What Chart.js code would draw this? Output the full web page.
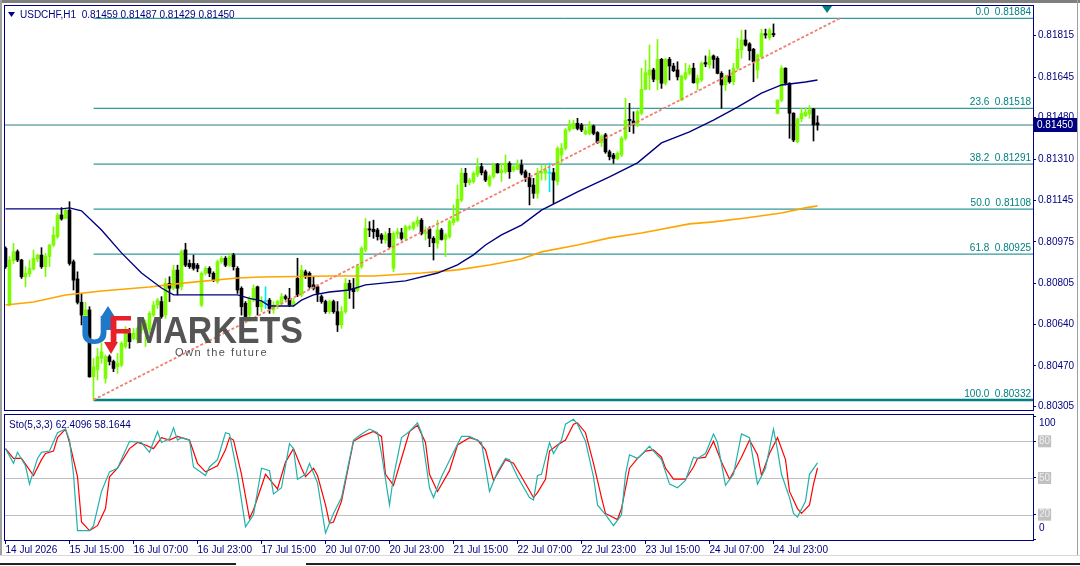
<!DOCTYPE html>
<html>
<head>
<meta charset="utf-8">
<script src="https://cdn.jsdelivr.net/npm/chart.js@4.4.1/dist/chart.umd.min.js"></script>
<style>
  html, body { margin: 0; padding: 0; background: #fff; }
  #wrap { position: relative; width: 1080px; height: 566px; overflow: hidden; background: #fff; }
  canvas { position: absolute; left: 0; }
  #main { top: 0; }
  #sto { top: 411px; }
  .bar { position: absolute; }
</style>
</head>
<body>
<div id="wrap">
  <canvas id="main" width="1080" height="412"></canvas>
  <canvas id="sto" width="1080" height="155"></canvas>
  <div class="bar" style="left:0;top:0;width:1080px;height:3px;background:#7f7f7f"></div>
  <div class="bar" style="left:0;top:0;width:2px;height:556px;background:#a0a0a0"></div>
  <div class="bar" style="left:1077px;top:0;width:1px;height:556px;background:#a0a0a0"></div>
  <div class="bar" style="left:0;top:555px;width:1080px;height:1px;background:#d8d8d8"></div>
  <div class="bar" style="left:0;top:563px;width:236px;height:2px;background:#222"></div>
  <div class="bar" style="left:306px;top:563px;width:774px;height:2px;background:#222"></div>
</div>
<script>
// USDCHF H1 - bars numbered from the left edge of the chart
const timeLabels = ['14 Jul 2026', '15 Jul 15:00', '16 Jul 07:00', '16 Jul 23:00', '17 Jul 15:00',
  '20 Jul 07:00', '20 Jul 23:00', '21 Jul 15:00', '22 Jul 07:00', '22 Jul 23:00',
  '23 Jul 15:00', '24 Jul 07:00', '24 Jul 23:00'];
const labelStep = 16;
const priceTicks = [0.80305, 0.80470, 0.80640, 0.80805, 0.80975, 0.81145, 0.81310, 0.81480, 0.81645, 0.81815];
const stochTicks = [0, 20, 50, 80, 100];
const stochLevels = [20, 50, 80];

const opens = [0.80949,0.80718,0.80898,0.80935,0.80901,0.80833,0.80844,0.80864,0.80905,0.80921,
  0.80874,0.80915,0.80962,0.80996,0.81084,0.81070,0.81104,0.80894,0.80824,0.80729,
  0.80677,0.80698,0.80426,0.80454,0.80501,0.80420,0.80508,0.80488,0.80467,0.80474,
  0.80549,0.80603,0.80582,0.80576,0.80617,0.80623,0.80617,0.80677,0.80718,0.80732,
  0.80677,0.80806,0.80786,0.80860,0.80792,0.80942,0.80887,0.80887,0.80880,0.80718,
  0.80847,0.80867,0.80847,0.80813,0.80894,0.80908,0.80880,0.80921,0.80867,0.80786,
  0.80725,0.80677,0.80738,0.80792,0.80711,0.80732,0.80738,0.80698,0.80711,0.80725,
  0.80752,0.80745,0.80718,0.80826,0.80759,0.80853,0.80847,0.80800,0.80792,0.80752,
  0.80732,0.80691,0.80732,0.80691,0.80637,0.80691,0.80806,0.80786,0.80779,0.80874,
  0.80942,0.81028,0.81026,0.81023,0.81003,0.80982,0.81009,0.80867,0.81007,0.81012,
  0.80989,0.81030,0.81030,0.81047,0.81063,0.81009,0.81027,0.80989,0.80969,0.81023,
  0.80985,0.80996,0.81053,0.81063,0.81145,0.81254,0.81216,0.81220,0.81247,0.81281,
  0.81260,0.81206,0.81240,0.81291,0.81256,0.81260,0.81294,0.81267,0.81270,0.81287,
  0.81260,0.81236,0.81206,0.81172,0.81254,0.81254,0.81254,0.81256,0.81220,0.81328,
  0.81355,0.81430,0.81436,0.81457,0.81450,0.81414,0.81416,0.81446,0.81419,0.81378,
  0.81410,0.81341,0.81328,0.81314,0.81328,0.81396,0.81473,0.81466,0.81450,0.81498,
  0.81595,0.81653,0.81674,0.81633,0.81717,0.81620,0.81717,0.81690,0.81674,0.81551,
  0.81640,0.81660,0.81681,0.81620,0.81633,0.81704,0.81694,0.81731,0.81721,0.81660,
  0.81613,0.81649,0.81626,0.81681,0.81755,0.81796,0.81780,0.81758,0.81674,0.81728,
  0.81821,0.81805,0.81822,0.81498,0.81551,0.81681,0.81620,0.81498,0.81382,0.81475,
  0.81488,0.81495,0.81515,0.81459];
const highs = [0.80955,0.80915,0.80969,0.80942,0.80904,0.80874,0.80901,0.80942,0.80925,0.80951,
  0.80928,0.80965,0.81036,0.81091,0.81114,0.81111,0.81138,0.80901,0.80853,0.80765,
  0.80729,0.80711,0.80501,0.80542,0.80562,0.80515,0.80515,0.80494,0.80521,0.80569,
  0.80630,0.80623,0.80623,0.80630,0.80651,0.80657,0.80691,0.80732,0.80745,0.80752,
  0.80826,0.80833,0.80880,0.80880,0.80942,0.80969,0.80901,0.80921,0.80887,0.80853,
  0.80874,0.80874,0.80853,0.80901,0.80915,0.80915,0.80928,0.80928,0.80874,0.80792,
  0.80732,0.80752,0.80800,0.80795,0.80752,0.80792,0.80745,0.80732,0.80738,0.80765,
  0.80759,0.80786,0.80745,0.80908,0.80880,0.80860,0.80853,0.80833,0.80800,0.80759,
  0.80738,0.80738,0.80738,0.80732,0.80711,0.80826,0.80819,0.80826,0.80880,0.80955,
  0.81070,0.81057,0.81063,0.81030,0.81009,0.81016,0.81030,0.81016,0.81030,0.81030,
  0.81043,0.81043,0.81057,0.81077,0.81070,0.81036,0.81036,0.80996,0.81063,0.81030,
  0.81009,0.81063,0.81125,0.81206,0.81274,0.81274,0.81233,0.81260,0.81314,0.81294,
  0.81267,0.81247,0.81294,0.81294,0.81294,0.81328,0.81301,0.81287,0.81308,0.81308,
  0.81267,0.81254,0.81233,0.81274,0.81287,0.81287,0.81294,0.81274,0.81362,0.81375,
  0.81436,0.81470,0.81470,0.81477,0.81457,0.81443,0.81464,0.81450,0.81423,0.81410,
  0.81416,0.81348,0.81335,0.81341,0.81403,0.81559,0.81538,0.81504,0.81511,0.81681,
  0.81714,0.81775,0.81681,0.81798,0.81721,0.81721,0.81725,0.81701,0.81707,0.81653,
  0.81701,0.81694,0.81701,0.81653,0.81707,0.81731,0.81755,0.81735,0.81728,0.81667,
  0.81653,0.81674,0.81701,0.81803,0.81836,0.81836,0.81785,0.81762,0.81738,0.81840,
  0.81840,0.81843,0.81861,0.81553,0.81691,0.81683,0.81622,0.81500,0.81477,0.81518,
  0.81518,0.81529,0.81518,0.81487];
const lows = [0.80867,0.80714,0.80887,0.80894,0.80826,0.80792,0.80833,0.80860,0.80894,0.80867,
  0.80833,0.80874,0.80955,0.80989,0.81063,0.81068,0.80880,0.80779,0.80722,0.80637,
  0.80646,0.80424,0.80332,0.80413,0.80481,0.80400,0.80474,0.80447,0.80440,0.80467,
  0.80542,0.80542,0.80576,0.80562,0.80603,0.80549,0.80603,0.80671,0.80704,0.80664,
  0.80664,0.80732,0.80779,0.80759,0.80779,0.80874,0.80867,0.80860,0.80853,0.80711,
  0.80840,0.80833,0.80813,0.80806,0.80887,0.80874,0.80874,0.80860,0.80765,0.80677,
  0.80657,0.80651,0.80732,0.80677,0.80691,0.80704,0.80684,0.80684,0.80704,0.80718,
  0.80738,0.80711,0.80711,0.80752,0.80752,0.80826,0.80786,0.80779,0.80732,0.80725,
  0.80684,0.80684,0.80684,0.80610,0.80623,0.80684,0.80745,0.80704,0.80772,0.80867,
  0.80935,0.80996,0.80989,0.80982,0.80969,0.80969,0.80949,0.80853,0.80989,0.80982,
  0.80982,0.81023,0.81023,0.81036,0.81003,0.80982,0.80955,0.80901,0.80949,0.80982,
  0.80915,0.80989,0.81043,0.81057,0.81138,0.81199,0.81206,0.81213,0.81240,0.81247,
  0.81220,0.81199,0.81233,0.81254,0.81220,0.81254,0.81233,0.81260,0.81267,0.81247,
  0.81220,0.81125,0.81152,0.81152,0.81226,0.81226,0.81179,0.81131,0.81206,0.81294,
  0.81348,0.81423,0.81433,0.81430,0.81423,0.81410,0.81410,0.81410,0.81375,0.81362,
  0.81335,0.81308,0.81294,0.81308,0.81321,0.81389,0.81423,0.81416,0.81443,0.81491,
  0.81593,0.81593,0.81626,0.81593,0.81599,0.81613,0.81633,0.81667,0.81633,0.81549,
  0.81633,0.81653,0.81620,0.81593,0.81626,0.81687,0.81681,0.81681,0.81658,0.81518,
  0.81590,0.81620,0.81613,0.81674,0.81721,0.81771,0.81714,0.81626,0.81640,0.81721,
  0.81803,0.81796,0.81809,0.81495,0.81545,0.81613,0.81396,0.81382,0.81378,0.81464,
  0.81484,0.81477,0.81385,0.81429];
const closes = [0.80874,0.80901,0.80935,0.80901,0.80833,0.80847,0.80867,0.80908,0.80921,0.80874,
  0.80917,0.80962,0.81003,0.81084,0.81068,0.81104,0.80887,0.80819,0.80729,0.80677,
  0.80698,0.80426,0.80467,0.80508,0.80528,0.80508,0.80488,0.80460,0.80481,0.80562,
  0.80603,0.80569,0.80603,0.80623,0.80637,0.80644,0.80684,0.80718,0.80738,0.80671,
  0.80806,0.80786,0.80860,0.80786,0.80935,0.80880,0.80874,0.80867,0.80867,0.80847,
  0.80867,0.80847,0.80819,0.80894,0.80908,0.80880,0.80915,0.80874,0.80779,0.80711,
  0.80671,0.80745,0.80786,0.80711,0.80732,0.80732,0.80704,0.80718,0.80732,0.80752,
  0.80745,0.80718,0.80732,0.80759,0.80860,0.80833,0.80792,0.80786,0.80765,0.80732,
  0.80691,0.80732,0.80691,0.80637,0.80691,0.80806,0.80779,0.80772,0.80874,0.80949,
  0.81030,0.81023,0.81016,0.80996,0.80985,0.81003,0.80955,0.81009,0.81016,0.80989,
  0.81036,0.81036,0.81053,0.81063,0.81009,0.81016,0.80989,0.80971,0.81023,0.80985,
  0.81003,0.81057,0.81070,0.81148,0.81254,0.81216,0.81226,0.81254,0.81281,0.81256,
  0.81226,0.81240,0.81287,0.81256,0.81267,0.81294,0.81260,0.81281,0.81290,0.81254,
  0.81237,0.81199,0.81172,0.81254,0.81260,0.81267,0.81254,0.81226,0.81355,0.81355,
  0.81430,0.81450,0.81457,0.81436,0.81430,0.81427,0.81450,0.81416,0.81378,0.81405,
  0.81341,0.81321,0.81314,0.81335,0.81396,0.81470,0.81468,0.81457,0.81504,0.81595,
  0.81663,0.81674,0.81636,0.81717,0.81620,0.81717,0.81690,0.81671,0.81646,0.81649,
  0.81663,0.81681,0.81622,0.81640,0.81701,0.81698,0.81728,0.81717,0.81660,0.81613,
  0.81646,0.81626,0.81681,0.81758,0.81796,0.81775,0.81752,0.81707,0.81735,0.81822,
  0.81816,0.81836,0.81817,0.81551,0.81681,0.81620,0.81498,0.81389,0.81475,0.81498,
  0.81502,0.81511,0.81450,0.81450];

// moving averages, read as [bar, price]
const maNavy = [[0,0.81109],[14,0.81109],[16,0.81113],[19,0.81101],[24,0.81023],[29,0.80930],[34,0.80848],
  [39,0.80787],[42,0.80759],[58,0.80759],[61,0.80745],[64,0.80735],[66,0.80714],[72,0.80714],[74,0.80738],
  [77,0.80759],[81,0.80771],[86,0.80779],[90,0.80800],[100,0.80816],[108,0.80848],[113,0.80881],
  [117,0.80922],[120,0.80962],[124,0.81003],[129,0.81043],[134,0.81104],[143,0.81178],[151,0.81239],
  [158,0.81296],[164,0.81377],[171,0.81422],[177,0.81470],[183,0.81523],[189,0.81580],[194,0.81613],
  [200,0.81625],[203,0.81633]];
const maOrange = [[0,0.80718],[7,0.80730],[15,0.80759],[24,0.80775],[36,0.80791],[45,0.80808],[58,0.80828],
  [64,0.80832],[81,0.80836],[92,0.80836],[104,0.80848],[113,0.80861],[121,0.80881],[129,0.80905],
  [134,0.80934],[143,0.80962],[151,0.80991],[159,0.81011],[171,0.81048],[177,0.81056],[185,0.81072],
  [194,0.81092],[200,0.81113],[203,0.81121]];

// fibonacci retracement
const fibPct = [0.0, 23.6, 38.2, 50.0, 61.8, 100.0];
const fibPrice = [0.81884, 0.81518, 0.81291, 0.81108, 0.80925, 0.80332];
const fibFrom = 22;
const fibTrend = [[22, 0.80332], [208.6, 0.81884]];
const lastPrice = 0.81450;

// stochastic (5,3,3), read as [bar, value]
const stochK = [[0,74],[2,62],[3,71],[5,60],[6,45],[8,66],[9,71],[11,72],[13,87],[15,90],[16,81],[17,53],[18,7],
  [21,7],[22,11],[24,39],[26,55],[28,58],[31,80],[34,79],[36,71],[38,88],[39,79],[41,82],[42,91],[43,81],
  [44,83],[46,81],[47,59],[50,52],[51,59],[53,65],[55,87],[56,86],[58,53],[60,10],[62,20],[64,58],[66,56],
  [67,37],[69,42],[71,78],[72,74],[73,49],[75,53],[76,62],[78,46],[80,5],[82,21],[84,34],[87,81],[89,86],
  [91,90],[93,87],[94,70],[96,28],[97,51],[99,83],[101,88],[103,95],[104,87],[106,42],[107,34],[109,51],
  [112,71],[114,84],[116,84],[119,79],[121,39],[123,55],[125,66],[126,65],[128,51],[131,34],[132,32],
  [133,52],[134,53],[136,79],[137,70],[139,81],[140,94],[142,98],[143,94],[145,80],[147,51],[148,28],
  [150,20],[152,11],[154,20],[155,53],[156,69],[158,66],[159,69],[161,76],[162,72],[164,65],[165,55],
  [166,45],[168,42],[170,48],[172,67],[173,66],[175,70],[177,86],[178,79],[180,44],[182,53],[184,86],
  [186,83],[188,45],[190,58],[192,90],[193,73],[194,53],[196,34],[197,21],[198,18],[200,31],[201,53],
  [203,62.4096]];
const stochD = [[0,74],[2,66],[4,66],[7,52],[9,65],[10,70],[12,72],[13,83],[15,90],[16,79],[18,51],[19,14],
  [21,7],[23,11],[25,25],[26,51],[28,58],[31,74],[33,79],[35,77],[37,74],[39,83],[41,81],[43,84],[44,83],
  [46,81],[48,62],[50,55],[53,60],[55,73],[56,83],[57,81],[59,53],[61,17],[62,24],[65,53],[67,45],[68,41],
  [70,63],[72,74],[74,58],[75,51],[77,58],[78,52],[80,28],[81,13],[82,14],[84,31],[87,80],[89,84],[92,88],
  [94,84],[95,53],[97,44],[100,77],[101,88],[103,93],[105,79],[106,53],[108,39],[111,56],[113,77],[116,83],
  [118,81],[120,73],[122,48],[125,65],[127,62],[129,51],[132,34],[133,38],[135,49],[136,72],[138,77],
  [140,81],[142,94],[143,95],[145,87],[147,62],[149,34],[150,21],[153,16],[154,25],[156,58],[158,66],
  [160,72],[162,73],[164,67],[165,58],[167,49],[170,49],[172,59],[173,66],[175,67],[177,80],[179,63],
  [181,49],[184,67],[186,81],[188,69],[189,52],[191,70],[193,83],[195,65],[196,39],[198,25],[199,21],
  [201,28],[202,45],[203,58.1644]];

const NAVY = '#000080';
const TEAL = '#008080';
const FONT = 'Liberation Sans';
const xMin = -0.125, xMax = 256.875;

function candleColor(i) {
  if (closes[i] > opens[i]) return '#7cfc00';
  if (closes[i] < opens[i]) return '#000000';
  return '#00e5ff';
}

// keep edge tick labels from shrinking the plot area
function noPad(s) {
  s.paddingTop = 0; s.paddingBottom = 0; s.paddingLeft = 0; s.paddingRight = 0;
}

const wickData = highs.map((h, i) => ({ x: i, y: [lows[i], h] }));
const bodyData = opens.map((o, i) => ({ x: i, y: [o, closes[i]] }));
const pts = arr => arr.map(p => ({ x: p[0], y: p[1] }));

const fibSets = fibPrice.map((p, k) => ({
  type: 'line', data: [{ x: fibFrom, y: p }, { x: xMax, y: p }],
  borderColor: TEAL, borderWidth: k === fibPrice.length - 1 ? 2.5 : 1,
  pointRadius: 0, order: 9
}));

const mainDecor = {
  id: 'mainDecor',
  afterDatasetsDraw(chart) {
    const { ctx, chartArea: a, scales: { y } } = chart;
    ctx.save();
    // fib level captions
    ctx.font = '10px "' + FONT + '"';
    ctx.fillStyle = TEAL;
    ctx.textAlign = 'right';
    ctx.textBaseline = 'alphabetic';
    fibPrice.forEach((p, k) => {
      ctx.fillText(fibPct[k].toFixed(1) + '  ' + p.toFixed(5), a.right - 2, y.getPixelForValue(p) - 3);
    });
    // watermark logo
    ctx.textAlign = 'left';
    ctx.font = 'bold 40px "' + FONT + '"';
    ctx.fillStyle = '#1f78c8';
    ctx.fillText('U', 80, 344);
    ctx.beginPath();
    ctx.moveTo(101, 317); ctx.lineTo(108, 306); ctx.lineTo(115, 317); ctx.closePath(); ctx.fill();
    ctx.fillRect(105, 316, 6, 14);
    ctx.fillStyle = '#e8202a';
    ctx.fillText('F', 108, 344);
    ctx.beginPath();
    ctx.moveTo(104, 342); ctx.lineTo(111, 354); ctx.lineTo(118, 342); ctx.closePath(); ctx.fill();
    ctx.font = 'bold 36px "' + FONT + '"';
    const w = ctx.measureText('MARKETS').width;
    ctx.save();
    ctx.translate(135, 343);
    ctx.scale(168 / w, 1);
    ctx.fillStyle = '#555555';
    ctx.fillText('MARKETS', 0, 0);
    ctx.restore();
    ctx.font = '11px "' + FONT + '"';
    ctx.fillStyle = '#505050';
    try { ctx.letterSpacing = '1.5px'; } catch (e) {}
    ctx.fillText('Own the future', 175, 356);
    try { ctx.letterSpacing = '0px'; } catch (e) {}
    ctx.restore();
  },
  afterDraw(chart) {
    const { ctx, chartArea: a, scales: { x, y } } = chart;
    ctx.save();
    ctx.strokeStyle = NAVY;
    ctx.lineWidth = 1;
    ctx.strokeRect(a.left - 0.5, a.top - 0.5, a.right - a.left + 1, a.bottom - a.top + 1);
    // header
    ctx.fillStyle = NAVY;
    ctx.beginPath();
    ctx.moveTo(8, 12); ctx.lineTo(15, 12); ctx.lineTo(11.5, 17); ctx.closePath(); ctx.fill();
    ctx.font = '10px "' + FONT + '"';
    ctx.textBaseline = 'middle';
    const n = closes.length - 1;
    ctx.fillText('USDCHF,H1  ' + [opens[n], highs[n], lows[n], closes[n]].map(v => v.toFixed(5)).join(' '), 20, 15);
    // current price box
    const py = y.getPixelForValue(lastPrice);
    ctx.fillStyle = NAVY;
    ctx.fillRect(a.right + 1, py - 7, 43, 14);
    ctx.fillStyle = '#fff';
    ctx.fillText(lastPrice.toFixed(5), a.right + 4, py);
    // chart shift marker
    const sx = x.getPixelForValue(205.4);
    ctx.fillStyle = TEAL;
    ctx.beginPath();
    ctx.moveTo(sx - 5, a.top); ctx.lineTo(sx + 5, a.top); ctx.lineTo(sx, a.top + 7); ctx.closePath(); ctx.fill();
    ctx.restore();
  }
};

new Chart(document.getElementById('main'), {
  type: 'bar',
  data: {
    datasets: [
      ...fibSets,
      { type: 'line', data: [{ x: xMin, y: lastPrice }, { x: xMax, y: lastPrice }], borderColor: '#2f7f7c',
        borderWidth: 1, pointRadius: 0, order: 8 },
      { type: 'bar', data: wickData, barThickness: 1, grouped: false,
        backgroundColor: c => candleColor(c.dataIndex), order: 6 },
      { type: 'bar', data: bodyData, barThickness: 3, grouped: false, minBarLength: 1,
        backgroundColor: c => candleColor(c.dataIndex), order: 5 },
      { type: 'line', data: pts(maOrange), borderColor: '#ffa500', borderWidth: 1.6, pointRadius: 0, order: 4 },
      { type: 'line', data: pts(maNavy), borderColor: NAVY, borderWidth: 1.4, pointRadius: 0, order: 3 },
      { type: 'line', data: pts(fibTrend), borderColor: '#f08070', borderWidth: 1.8, borderDash: [3, 2],
        pointRadius: 0, order: 2 }
    ]
  },
  options: {
    responsive: false, animation: false, devicePixelRatio: 1,
    layout: { padding: { left: 5, top: 6, right: 0, bottom: 2 } },
    plugins: { legend: { display: false }, tooltip: { enabled: false } },
    scales: {
      x: { type: 'linear', display: false, min: xMin, max: xMax, offset: false },
      y: {
        position: 'right', min: 0.80291, max: 0.81934,
        afterBuildTicks: s => { s.ticks = priceTicks.map(v => ({ value: v })); },
        afterFit: s => { s.width = 47; noPad(s); },
        grid: { drawOnChartArea: false, drawTicks: true, tickLength: 3, color: NAVY },
        border: { color: NAVY },
        ticks: { color: NAVY, font: { family: FONT, size: 10 }, padding: 2, callback: v => v.toFixed(5) }
      }
    }
  },
  plugins: [mainDecor]
});

const stoDecor = {
  id: 'stoDecor',
  beforeDatasetsDraw(chart) {
    const { ctx, chartArea: a, scales: { y } } = chart;
    ctx.save();
    ctx.strokeStyle = '#c0c0c0';
    ctx.lineWidth = 1;
    stochLevels.forEach(v => {
      const py = Math.round(y.getPixelForValue(v)) + 0.5;
      ctx.beginPath(); ctx.moveTo(a.left, py); ctx.lineTo(a.right, py); ctx.stroke();
    });
    ctx.restore();
  },
  afterDraw(chart) {
    const { ctx, chartArea: a, scales: { y } } = chart;
    ctx.save();
    ctx.strokeStyle = NAVY;
    ctx.strokeRect(a.left - 0.5, a.top - 0.5, a.right - a.left + 1, a.bottom - a.top + 1);
    ctx.fillStyle = NAVY;
    ctx.font = '10px "' + FONT + '"';
    ctx.textBaseline = 'middle';
    ctx.fillText('Sto(5,3,3) ' + stochK[stochK.length - 1][1].toFixed(4) + ' ' + stochD[stochD.length - 1][1].toFixed(4), a.left + 4, a.top + 10);
    // end labels sit inside the window, as the terminal draws them
    ctx.fillText('100', a.right + 6, y.getPixelForValue(100) + 6);
    ctx.fillText('0', a.right + 6, y.getPixelForValue(0) - 11);
    ctx.restore();
  }
};

new Chart(document.getElementById('sto'), {
  type: 'line',
  data: {
    datasets: [
      { data: pts(stochD), borderColor: '#ff0000', borderWidth: 1.2, pointRadius: 0, order: 2 },
      { data: pts(stochK), borderColor: '#20b2aa', borderWidth: 1.2, pointRadius: 0, order: 1 }
    ]
  },
  options: {
    responsive: false, animation: false, devicePixelRatio: 1,
    layout: { padding: { left: 5, top: 4, right: 0, bottom: 0 } },
    plugins: { legend: { display: false }, tooltip: { enabled: false } },
    scales: {
      x: {
        type: 'linear', min: xMin, max: xMax, offset: false,
        afterBuildTicks: s => { s.ticks = timeLabels.map((t, k) => ({ value: k * labelStep })); },
        afterFit: s => { s.height = 26; noPad(s); },
        grid: { drawOnChartArea: false, drawTicks: true, tickLength: 4, color: NAVY },
        border: { color: NAVY },
        ticks: { align: 'start', autoSkip: false, maxRotation: 0, color: NAVY, padding: 0,
          font: { family: FONT, size: 10 }, callback: (v, k) => timeLabels[k] }
      },
      y: {
        position: 'right', min: -0.7, max: 101.5,
        afterBuildTicks: s => { s.ticks = stochTicks.map(v => ({ value: v })); },
        afterFit: s => { s.width = 47; noPad(s); },
        grid: { drawOnChartArea: false, drawTicks: true, tickLength: 3, color: NAVY },
        border: { color: NAVY },
        ticks: {
          font: { family: FONT, size: 10 }, padding: 3,
          color: c => stochLevels.includes(c.tick.value) ? '#eeeeee' : 'rgba(0,0,0,0)',
          showLabelBackdrop: c => stochLevels.includes(c.tick.value),
          backdropColor: '#c0c0c0', backdropPadding: { x: 1, y: 0 }
        }
      }
    }
  },
  plugins: [stoDecor]
});
</script>
</body>
</html>
